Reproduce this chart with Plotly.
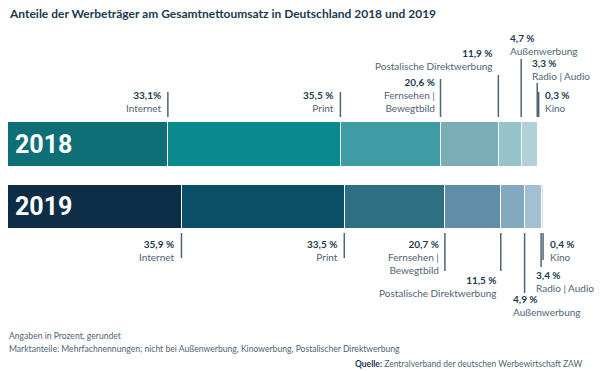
import plotly.graph_objects as go

years = ["2018", "2019"]
categories = ["Internet", "Print", "Fernsehen | Bewegtbild", "Postalische Direktwerbung",
              "Außenwerbung", "Radio | Audio", "Kino"]
values_2018 = [33.1, 35.5, 20.6, 11.9, 4.7, 3.3, 0.3]
values_2019 = [35.9, 33.5, 20.7, 11.5, 4.9, 3.4, 0.4]
labels_2018 = ["33,1%", "35,5 %", "20,6 %", "11,9 %", "4,7 %", "3,3 %", "0,3 %"]
labels_2019 = ["35,9 %", "33,5 %", "20,7 %", "11,5 %", "4,9 %", "3,4 %", "0,4 %"]
names_2018 = ["Internet", "Print", "Fernsehen |<br>Bewegtbild", "Postalische Direktwerbung",
              "Außenwerbung", "Radio | Audio", "Kino"]
names_2019 = names_2018

colors_2018 = ["#0f6f76", "#0a8a8f", "#3f9ba4", "#79aeb7", "#97c3ca", "#b0d2d7", "#d8e9eb"]
colors_2019 = ["#0e2e48", "#0b4f66", "#2e6f82", "#5f8ea6", "#82a9c0", "#a2c0d1", "#d3e1e9"]

W, H = 600, 371
PX_PER_UNIT = 4.86
X0 = 7
Y_CENTER_2018 = 144
PX_PER_CAT = 62.5
FONT = "Lato, Open Sans, sans-serif"

def py(p):
    return (p - Y_CENTER_2018) / PX_PER_CAT

fig = go.Figure()
for i, cat in enumerate(categories):
    fig.add_trace(go.Bar(
        y=years, x=[values_2018[i], values_2019[i]], orientation="h", name=cat,
        marker=dict(color=[colors_2018[i], colors_2019[i]], line=dict(color="white", width=1)),
        width=0.71, hoverinfo="skip", showlegend=False))

fig.update_layout(
    barmode="stack", width=W, height=H,
    margin=dict(l=0, r=0, t=0, b=0),
    plot_bgcolor="white", paper_bgcolor="white",
    font=dict(family=FONT),
    xaxis=dict(range=[-X0 / PX_PER_UNIT, (W - X0) / PX_PER_UNIT], visible=False, fixedrange=True),
    yaxis=dict(type="category", range=[py(H), py(0)], visible=False, fixedrange=True),
)

NAVY = "#1b3a50"
GREY = "#4f6474"
LINE = "#4f6474"

def cum(vals):
    out, s = [], 0
    for v in vals:
        s += v
        out.append(s)
    return out

# label layout: (line_end_px, text_anchor, xshift, text_y_px)
layout_2018 = [
    (92, "right", -4, 116), (92, "right", -4, 116), (79, "right", -4, 116),
    (75, "right", -3, 74), (59, "left", -13, 59), (83, "left", -7, 84), (92, "left", 4, 116),
]
layout_2019 = [
    (258, "right", -4, 236), (258, "right", -4, 236), (271, "right", -4, 236),
    (271, "right", -2, 272), (293, "left", -14, 291), (267, "left", -7, 267), (260, "left", 5, 236),
]

for vals, labels, names, lay, above in [
        (values_2018, labels_2018, names_2018, layout_2018, True),
        (values_2019, labels_2019, names_2019, layout_2019, False)]:
    ends = cum(vals)
    for e, lab, nm, (lt, anchor, xs, ty) in zip(ends, labels, names, lay):
        if above:
            y0, y1 = py(lt), py(117)
        else:
            y0, y1 = py(233), py(lt)
        fig.add_shape(type="line", x0=e, x1=e, y0=y0, y1=y1, xref="x", yref="y",
                      line=dict(color=LINE, width=1.5))
        fig.add_annotation(
            x=e, y=py(ty), xref="x", yref="y", xshift=xs,
            text=f"<b><span style='color:{NAVY}'>{lab}</span></b><br>{nm}",
            showarrow=False, xanchor=anchor, yanchor="bottom" if above else "top",
            align=anchor, font=dict(size=10, color=GREY))

# year labels
for yr, ypx in [("2018", 144), ("2019", 206.5)]:
    fig.add_annotation(x=0, y=py(ypx), xref="x", yref="y", xshift=6, text=f"<b>{yr}</b>",
                       showarrow=False, xanchor="left", yanchor="middle",
                       font=dict(size=25, color="white", family="Roboto, sans-serif"))

fig.add_annotation(x=7 / W, y=1 - 14 / H, xref="paper", yref="paper",
                   text="<b>Anteile der Werbeträger am Gesamtnettoumsatz in Deutschland 2018 und 2019</b>",
                   showarrow=False, xanchor="left", yanchor="middle",
                   font=dict(size=12, color=NAVY))
fig.add_annotation(x=7 / W, y=1 - 336 / H, xref="paper", yref="paper",
                   text="Angaben in Prozent, gerundet", showarrow=False,
                   xanchor="left", yanchor="middle", font=dict(size=8.6, color=GREY))
fig.add_annotation(x=7 / W, y=1 - 349 / H, xref="paper", yref="paper",
                   text="Marktanteile: Mehrfachnennungen; nicht bei Außenwerbung, Kinowerbung, Postalischer Direktwerbung",
                   showarrow=False, xanchor="left", yanchor="middle", font=dict(size=8.6, color=GREY))
fig.add_annotation(x=584 / W, y=1 - 364 / H, xref="paper", yref="paper",
                   text=f"<b><span style='color:{NAVY}'>Quelle:</span></b> Zentralverband der deutschen Werbewirtschaft ZAW",
                   showarrow=False, xanchor="right", yanchor="middle", font=dict(size=8.5, color=GREY))

fig.write_html("out.html", config={"displayModeBar": False},
               post_script="document.body.style.margin='0';document.body.style.overflow='hidden';")
